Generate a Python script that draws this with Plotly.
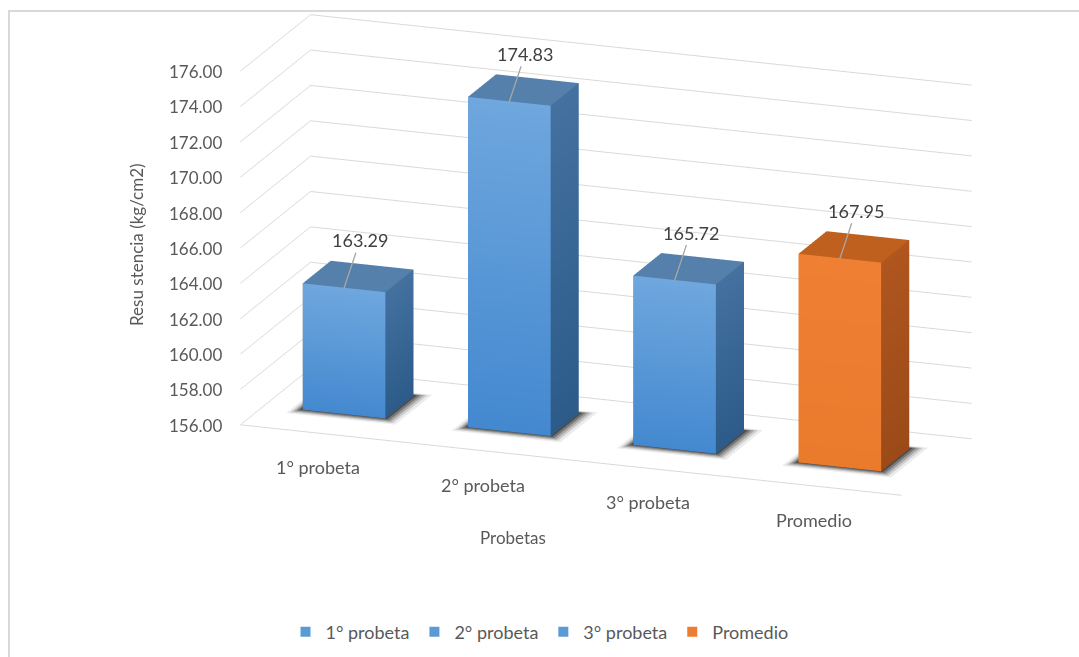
import math
import plotly.graph_objects as go

# Resistencia a compresión de las probetas y su promedio
categorias = ["1° probeta", "2° probeta", "3° probeta", "Promedio"]
valores = [163.29, 174.83, 165.72, 167.95]
etiquetas = ["163.29", "174.83", "165.72", "167.95"]
z_ticks = [156, 158, 160, 162, 164, 166, 168, 170, 172, 174, 176]
z_ticktext = ["156.00", "158.00", "160.00", "162.00", "164.00", "166.00",
              "168.00", "170.00", "172.00", "174.00", "176.00"]

# colours for each bar: front (top, bottom), side (top, bottom), top face, legend swatch
azul = dict(front=("#6fa7de", "#4388cf"), side=("#44719f", "#2c5b89"), top="#5580ab", swatch="#5b9bd5")
naranja = dict(front=("#ef7f33", "#ea7a2c"), side=("#b0561f", "#9a4a18"), top="#bf601f", swatch="#ed7d31")
paletas = [azul, azul, azul, naranja]

BASE = 156.0
HALF_W = 0.25          # half of the column width (gap width 100 %)
Y0, Y1 = 0.3, 0.7      # column depth inside the floor (0..1)

# floor shadow rings, outermost first: (spread, grey)
SHADOW_RINGS = [(0.08, "#ececec"), (0.06, "#cdcdcd"), (0.045, "#a5a5a5"),
                (0.03, "#787878"), (0.015, "#4d4d4d")]


def quads_to_mesh(quads):
    xs, ys, zs, cols, ii, jj, kk = [], [], [], [], [], [], []
    for corners, colours in quads:
        n = len(xs)
        for (px, py, pz), c in zip(corners, colours):
            xs.append(px); ys.append(py); zs.append(pz); cols.append(c)
        ii += [n, n]; jj += [n + 1, n + 2]; kk += [n + 2, n + 3]
    return xs, ys, zs, cols, ii, jj, kk


def columna(xc, valor, pal):
    """Box mesh for one column, every face with its own vertices and colours."""
    x0, x1 = xc - HALF_W, xc + HALF_W
    ft, fb = pal["front"]
    st, sb = pal["side"]
    tp = pal["top"]
    return quads_to_mesh([
        ([(x0, Y0, BASE), (x1, Y0, BASE), (x1, Y0, valor), (x0, Y0, valor)], [fb, fb, ft, ft]),   # front
        ([(x1, Y0, BASE), (x1, Y1, BASE), (x1, Y1, valor), (x1, Y0, valor)], [sb, sb, st, st]),   # right
        ([(x0, Y0, valor), (x1, Y0, valor), (x1, Y1, valor), (x0, Y1, valor)], [tp, tp, tp, tp]), # top
        ([(x0, Y1, BASE), (x0, Y0, BASE), (x0, Y0, valor), (x0, Y1, valor)], [sb, sb, st, st]),   # left
        ([(x1, Y1, BASE), (x0, Y1, BASE), (x0, Y1, valor), (x1, Y1, valor)], [sb, sb, st, st]),   # back
        ([(x0, Y0, BASE), (x0, Y1, BASE), (x1, Y1, BASE), (x1, Y0, BASE)], [sb, sb, sb, sb]),     # bottom
    ])


def sombra(xc):
    """Soft floor shadow: stacked grey rings, darker towards the column base."""
    quads = []
    for k, (e, grey) in enumerate(SHADOW_RINGS):
        z = BASE + 0.03 * (k + 1)
        x0, x1 = xc - HALF_W - e, xc + HALF_W + e
        y0, y1 = Y0 - 0.6 * e, Y1 + e
        quads.append(([(x0, y0, z), (x1, y0, z), (x1, y1, z), (x0, y1, z)], [grey] * 4))
    return quads_to_mesh(quads)


fig = go.Figure()

flat_light = dict(ambient=1.0, diffuse=0.0, specular=0.0, roughness=1.0, fresnel=0.0)

for i in range(len(categorias)):
    xs, ys, zs, cols, ii, jj, kk = sombra(i)
    fig.add_trace(go.Mesh3d(
        x=xs, y=ys, z=zs, i=ii, j=jj, k=kk, vertexcolor=cols,
        flatshading=True, showlegend=False, hoverinfo="skip",
        lighting=flat_light, scene="scene",
    ))

for i, (cat, val, pal) in enumerate(zip(categorias, valores, paletas)):
    xs, ys, zs, cols, ii, jj, kk = columna(i, val, pal)
    fig.add_trace(go.Mesh3d(
        x=xs, y=ys, z=zs, i=ii, j=jj, k=kk, vertexcolor=cols,
        flatshading=True, name=cat, showlegend=False, hoverinfo="skip",
        lighting=flat_light, scene="scene",
    ))

# legend entries
for cat, pal in zip(categorias, paletas):
    fig.add_trace(go.Scatter(
        x=[None], y=[None], mode="markers", name=cat,
        marker=dict(symbol="square", size=10, color=pal["swatch"]),
        xaxis="x", yaxis="y",
    ))

txt = "#595959"
font_family = "Lato, 'Open Sans', sans-serif"

scene_annotations = []
# value labels with leader lines from the front top edge of each column
for i, (val, lab) in enumerate(zip(valores, etiquetas)):
    scene_annotations.append(dict(
        x=i, y=Y0, z=val, text=lab, showarrow=True, arrowhead=0, arrowwidth=1.3,
        arrowcolor="#a6a6a6", ax=16, ay=-48,
        font=dict(family=font_family, size=18, color="#404040"),
    ))
# value axis labels on the front edge of the side wall
for zv, zt in zip(z_ticks, z_ticktext):
    scene_annotations.append(dict(
        x=-0.5, y=0, z=zv, text=zt, showarrow=False, xanchor="right", xshift=-16,
        font=dict(family=font_family, size=17, color=txt),
    ))
# category labels below the front edge of the floor
for i, cat in enumerate(categorias):
    scene_annotations.append(dict(
        x=i, y=0, z=BASE, text=cat, showarrow=False, xshift=-5, yshift=-33,
        font=dict(family=font_family, size=18, color=txt),
    ))

axis_common = dict(showbackground=False, zeroline=False, showspikes=False,
                   showticklabels=False, ticks="", title=dict(text=""))

# camera: 20° turned to the right, 16° above the floor
az, el, dist = math.radians(20), math.radians(16), 1.6
eye = dict(x=dist * math.sin(az) * math.cos(el), y=-dist * math.cos(az) * math.cos(el),
           z=dist * math.sin(el))

fig.update_layout(
    width=1079, height=657,
    margin=dict(l=0, r=0, t=0, b=0),
    paper_bgcolor="white", plot_bgcolor="white",
    font=dict(family=font_family, color=txt),
    scene=dict(
        domain=dict(x=[0.1232, 1.0], y=[0.2, 0.9994]),
        aspectmode="manual",
        aspectratio=dict(x=2.68, y=0.782, z=1.409),
        xaxis=dict(axis_common, range=[-0.5, 3.5], tickvals=[0, 1, 2, 3],
                   showgrid=False, showline=True, linecolor="#d9d9d9", linewidth=2),
        yaxis=dict(axis_common, range=[0, 1], showgrid=False, showline=False),
        zaxis=dict(axis_common, range=[156, 176], tickvals=z_ticks,
                   showgrid=True, gridcolor="#d9d9d9", gridwidth=2, showline=False),
        camera=dict(eye=eye, center=dict(x=0, y=0, z=-0.03), up=dict(x=0, y=0, z=1),
                    projection=dict(type="orthographic")),
        annotations=scene_annotations,
    ),
    xaxis=dict(visible=False, domain=[0, 0.01]),
    yaxis=dict(visible=False, domain=[0, 0.01]),
    legend=dict(orientation="h", x=0.5, xanchor="center", y=0.038, yanchor="middle",
                font=dict(family=font_family, size=18, color=txt)),
    annotations=[
        dict(text="Resu stencia (kg/cm2)", x=136 / 1079, y=1 - 245 / 657, xref="paper", yref="paper",
             xanchor="center", yanchor="middle", textangle=-90, showarrow=False,
             font=dict(family=font_family, size=17, color=txt)),
        dict(text="Probetas", x=513 / 1079, y=1 - 537 / 657, xref="paper", yref="paper",
             xanchor="center", yanchor="middle", showarrow=False,
             font=dict(family=font_family, size=17, color=txt)),
    ],
    shapes=[dict(type="rect", xref="paper", yref="paper", x0=9 / 1079, x1=1.02,
                 y0=-0.02, y1=1 - 11 / 657, line=dict(color="#d9d9d9", width=2))],
)

fig.write_html("out.html", config=dict(displayModeBar=False))
